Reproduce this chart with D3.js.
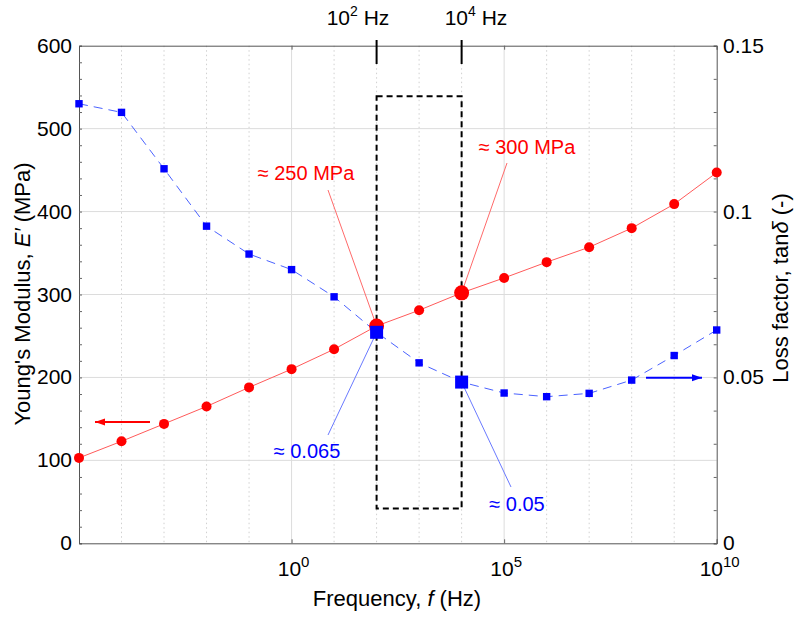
<!DOCTYPE html>
<html><head><meta charset="utf-8">
<script src="https://cdn.jsdelivr.net/npm/d3@7"></script>
<style>body{margin:0;background:#fff}svg{display:block;font-family:"Liberation Sans",Arial,sans-serif}</style>
</head><body><svg id="c" width="798" height="619"></svg>
<script>
const exponents = [-5,-4,-3,-2,-1,0,1,2,3,4,5,6,7,8,9,10];
const modulus = [103,123,144,165,188,210,234,262,281,302,320,339,357,380,409,447];
const lossFactor = [0.1325,0.1299,0.1129,0.0956,0.0872,0.0825,0.0743,0.0636,0.0544,0.0486,0.0453,0.0442,0.0452,0.0492,0.0566,0.0643];
const highlightExp = [2,4];
const highlightLabelX = [358,476];
const xTickExp = [0,5,10];
const yLeftTicks = [0,100,200,300,400,500,600];
const yRightTicks = [0,0.05,0.1,0.15];
const rangeBox = {x0:2, x1:4, y0:42, y1:539};
const annotations = [
  {text:"≈ 250 MPa", color:"#ff0000", line:"#ff6a6a", tx:306, ty:180, lx:328, ly:190, exp:2, series:"m"},
  {text:"≈ 300 MPa", color:"#ff0000", line:"#ff6a6a", tx:527, ty:154, lx:507, ly:163, exp:4, series:"m"},
  {text:"≈ 0.065", color:"#0000ff", line:"#6a7aff", tx:307, ty:458, lx:328, ly:435, exp:2, series:"l"},
  {text:"≈ 0.05", color:"#0000ff", line:"#6a7aff", tx:517, ty:511, lx:511, ly:487, exp:4, series:"l"}
];

const svg = d3.select("#c");
const L=79, T=45.7, R=716.7, B=543.3;
const x = d3.scaleLinear().domain([-5,10]).range([L,R]);
const y = d3.scaleLinear().domain([0,600]).range([B,T]);
const y2 = d3.scaleLinear().domain([0,0.15]).range([B,T]);

// grid
const g = svg.append("g");
d3.range(-4,10).forEach(e=>{
  const major = xTickExp.includes(e);
  g.append("line").attr("x1",x(e)).attr("x2",x(e)).attr("y1",T).attr("y2",B)
   .attr("stroke",major?"#dcdcdc":"#d0d0d0").attr("stroke-width",1)
   .attr("stroke-dasharray",major?null:"1.5,3");
});
yLeftTicks.slice(1,-1).forEach(v=>{
  g.append("line").attr("x1",L).attr("x2",R).attr("y1",y(v)).attr("y2",y(v))
   .attr("stroke","#dcdcdc").attr("stroke-width",1);
});

// axes
const axL = svg.append("g").attr("transform",`translate(${L},0)`)
  .call(d3.axisLeft(y).tickValues(d3.range(0,601,20)).tickSize(-3).tickFormat(""));
const axR = svg.append("g").attr("transform",`translate(${R},0)`)
  .call(d3.axisRight(y2).tickValues(d3.range(0,0.1501,0.01)).tickSize(-3).tickFormat(""));
const axB = svg.append("g").attr("transform",`translate(0,${B})`)
  .call(d3.axisBottom(x).tickValues(xTickExp).tickSize(-4).tickFormat(""));
const axT = svg.append("g").attr("transform",`translate(0,${T})`)
  .call(d3.axisTop(x).tickValues(xTickExp).tickSize(-4).tickFormat(""));
[axL,axR,axB,axT].forEach(a=>{a.selectAll("path").attr("stroke","#555");a.selectAll("line").attr("stroke","#666");});

// tick labels
yLeftTicks.forEach(v=>svg.append("text").attr("x",72).attr("y",y(v)+7).attr("text-anchor","end")
  .attr("font-size",21).text(v));
yRightTicks.forEach(v=>svg.append("text").attr("x",723).attr("y",y2(v)+7).attr("text-anchor","start")
  .attr("font-size",21).text(v===0?"0":String(v)));
xTickExp.forEach(e=>{
  const t = svg.append("text").attr("x",x(e)+(e===10?3:2)).attr("y",576).attr("text-anchor","middle").attr("font-size",21);
  t.append("tspan").text("10");
  t.append("tspan").attr("dy",-9).attr("font-size",15).text(e);
});

// axis titles
svg.append("text").attr("transform",`translate(30,294) rotate(-90)`).attr("text-anchor","middle").attr("font-size",22)
  .html("Young's Modulus, <tspan font-style='italic'>E′</tspan> (MPa)");
svg.append("text").attr("transform",`translate(788,288) rotate(-90)`).attr("text-anchor","middle").attr("font-size",22)
  .html("Loss factor, tan<tspan font-style='italic'>δ</tspan> (-)");
svg.append("text").attr("x",397).attr("y",606).attr("text-anchor","middle").attr("font-size",22)
  .html("Frequency, <tspan font-style='italic'>f</tspan> (Hz)");

// range box
svg.append("rect").attr("x",x(rangeBox.x0)).attr("y",y(rangeBox.y1))
  .attr("width",x(rangeBox.x1)-x(rangeBox.x0)).attr("height",y(rangeBox.y0)-y(rangeBox.y1))
  .attr("fill","none").attr("stroke","#000").attr("stroke-width",2).attr("stroke-dasharray","6,4");
highlightExp.forEach((e,k)=>{
  svg.append("line").attr("x1",x(e)).attr("x2",x(e)).attr("y1",40).attr("y2",64).attr("stroke","#000").attr("stroke-width",2);
  const t = svg.append("text").attr("x",highlightLabelX[k]).attr("y",25).attr("text-anchor","middle").attr("font-size",21);
  t.append("tspan").text("10");
  t.append("tspan").attr("dy",-9).attr("font-size",14).text(e);
  t.append("tspan").attr("dy",9).text(" Hz");
});

// annotation lines (under markers)
annotations.forEach(a=>{
  const i = exponents.indexOf(a.exp);
  const py = a.series==="m" ? y(modulus[i]) : y2(lossFactor[i]);
  svg.append("line").attr("x1",a.lx).attr("y1",a.ly).attr("x2",x(a.exp)).attr("y2",py)
    .attr("stroke",a.line).attr("stroke-width",1);
  svg.append("text").attr("x",a.tx).attr("y",a.ty).attr("text-anchor","middle").attr("font-size",20)
    .attr("fill",a.color).text(a.text);
});

// series lines
const pts = exponents.map((e,i)=>({e,m:modulus[i],l:lossFactor[i]}));
svg.append("path").datum(pts).attr("fill","none").attr("stroke","#ff5a5a").attr("stroke-width",1)
  .attr("d",d3.line().x(d=>x(d.e)).y(d=>y(d.m)));
svg.append("path").datum(pts).attr("fill","none").attr("stroke","#4a62ff").attr("stroke-width",1)
  .attr("stroke-dasharray","9,6")
  .attr("d",d3.line().x(d=>x(d.e)).y(d=>y2(d.l)));

// markers
svg.selectAll("circle.m").data(pts).enter().append("circle")
  .attr("cx",d=>x(d.e)).attr("cy",d=>y(d.m)).attr("r",d=>highlightExp.includes(d.e)?7.5:5).attr("fill","#ff0000");
svg.selectAll("rect.l").data(pts).enter().append("rect")
  .attr("x",d=>x(d.e)-(highlightExp.includes(d.e)?6.5:3.7)).attr("y",d=>y2(d.l)-(highlightExp.includes(d.e)?6.5:3.7))
  .attr("width",d=>highlightExp.includes(d.e)?13:7.4).attr("height",d=>highlightExp.includes(d.e)?13:7.4).attr("fill","#0000ff");

// direction arrows
function arrow(x1,x2,yy,col){
  svg.append("line").attr("x1",x1).attr("x2",x2).attr("y1",yy).attr("y2",yy).attr("stroke",col).attr("stroke-width",2);
  const d = x2>x1?-1:1;
  svg.append("path").attr("d",`M${x2},${yy} L${x2+d*10},${yy-3.5} L${x2+d*10},${yy+3.5} Z`).attr("fill",col);
}
arrow(150,95,422,"#ff0000");
arrow(646,702,377.7,"#0000ff");
</script></body></html>
